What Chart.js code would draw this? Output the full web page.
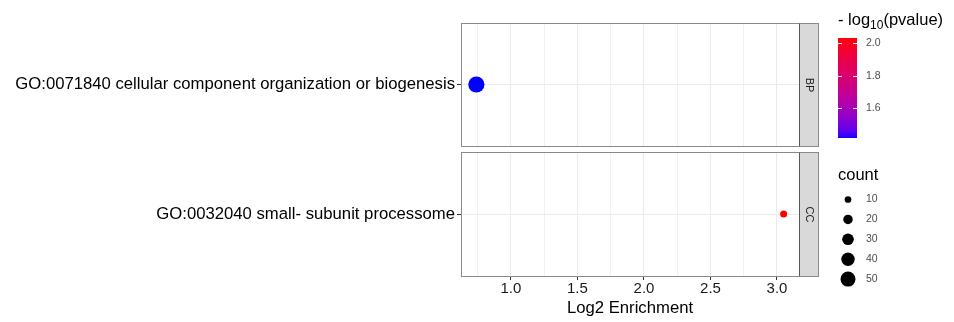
<!DOCTYPE html>
<html>
<head>
<meta charset="utf-8">
<title>GO enrichment</title>
<script src="https://cdn.jsdelivr.net/npm/chart.js@4/dist/chart.umd.min.js"></script>
<style>
  html, body { margin: 0; padding: 0; background: #fff; }
  #wrap { position: relative; width: 954px; height: 322px; }
  #wrap canvas { position: absolute; left: 0; top: 0; }
</style>
</head>
<body>
<div id="wrap">
  <canvas id="panelBP" width="954" height="322"></canvas>
  <canvas id="panelCC" width="954" height="322"></canvas>
</div>
<script>
// ---- data ----
const terms = [
  'GO:0071840 cellular component organization or biogenesis',
  'GO:0032040 small- subunit processome'
];
const ontologies = ['BP', 'CC'];
const log2Enrichment = [0.74, 3.05];
const negLog10P = [1.42, 2.03];
const geneCounts = [58, 11];

const xMajorTicks = [1.0, 1.5, 2.0, 2.5, 3.0];
const xMinorTicks = [0.75, 1.25, 1.75, 2.25, 2.75];
const colourBarTicks = [1.6, 1.8, 2.0];
const sizeLegendCounts = [10, 20, 30, 40, 50];

// ---- helpers ----
const FONT = '"Liberation Sans", Arial, Helvetica, sans-serif';

// x limits: data range expanded by 5% on each side
const xLo = Math.min(...log2Enrichment), xHi = Math.max(...log2Enrichment);
const xPad = (xHi - xLo) * 0.05;
const xMin = xLo - xPad, xMax = xHi + xPad;

// colour limits follow the data range
const pMin = Math.min(...negLog10P), pMax = Math.max(...negLog10P);

function bubbleRadius(count) { return 1.06 * Math.sqrt(count); }

// blue -> red gradient interpolated in CIELAB
const WP = [0.95047, 1.0, 1.08883];
function toLin(c) { c /= 255; return c <= 0.04045 ? c / 12.92 : Math.pow((c + 0.055) / 1.055, 2.4); }
function fromLin(c) {
  const v = c <= 0.0031308 ? 12.92 * c : 1.055 * Math.pow(c, 1 / 2.4) - 0.055;
  return Math.round(Math.max(0, Math.min(1, v)) * 255);
}
function rgbToLab(rgb) {
  const R = toLin(rgb[0]), G = toLin(rgb[1]), B = toLin(rgb[2]);
  const X = 0.4124 * R + 0.3576 * G + 0.1805 * B;
  const Y = 0.2126 * R + 0.7152 * G + 0.0722 * B;
  const Z = 0.0193 * R + 0.1192 * G + 0.9505 * B;
  const f = t => t > 216 / 24389 ? Math.cbrt(t) : (24389 / 27 * t + 16) / 116;
  const fx = f(X / WP[0]), fy = f(Y / WP[1]), fz = f(Z / WP[2]);
  return [116 * fy - 16, 500 * (fx - fy), 200 * (fy - fz)];
}
function labToRgb(lab) {
  const fy = (lab[0] + 16) / 116, fx = fy + lab[1] / 500, fz = fy - lab[2] / 200;
  const inv = t => (t * t * t > 216 / 24389) ? t * t * t : (116 * t - 16) / (24389 / 27);
  const X = inv(fx) * WP[0], Y = inv(fy) * WP[1], Z = inv(fz) * WP[2];
  const R = 3.2406 * X - 1.5372 * Y - 0.4986 * Z;
  const G = -0.9689 * X + 1.8758 * Y + 0.0415 * Z;
  const B = 0.0557 * X - 0.2040 * Y + 1.0570 * Z;
  return [fromLin(R), fromLin(G), fromLin(B)];
}
const LAB_LOW = rgbToLab([0, 0, 255]);
const LAB_HIGH = rgbToLab([255, 0, 0]);
function pColour(v) {
  const t = Math.max(0, Math.min(1, (v - pMin) / (pMax - pMin)));
  const lab = LAB_LOW.map((c, i) => c + (LAB_HIGH[i] - c) * t);
  const rgb = labToRgb(lab);
  return `rgb(${rgb[0]},${rgb[1]},${rgb[2]})`;
}

const allXTicks = [...xMinorTicks, ...xMajorTicks].sort((a, b) => a - b);
const isMajor = v => xMajorTicks.some(m => Math.abs(m - v) < 1e-9);

// ---- panel frame + facet strip ----
const STRIP_W = 19;
const panelFrame = {
  id: 'panelFrame',
  afterDraw(chart, args, opts) {
    const { ctx, chartArea: a } = chart;
    const L = Math.round(a.left) + 0.5, T = Math.round(a.top) + 0.5;
    const R = Math.round(a.right) + 0.5, B = Math.round(a.bottom) + 0.5;
    ctx.save();
    ctx.fillStyle = '#D9D9D9';
    ctx.fillRect(R, T, STRIP_W, B - T);
    ctx.lineWidth = 1;
    ctx.strokeStyle = '#8a8a8a';
    ctx.strokeRect(L, T, R - L, B - T);
    ctx.strokeRect(R, T, STRIP_W, B - T);
    ctx.strokeStyle = '#5a5a5a';
    ctx.beginPath(); ctx.moveTo(R, T); ctx.lineTo(R, B); ctx.stroke();
    ctx.translate(R + STRIP_W / 2, (T + B) / 2);
    ctx.rotate(Math.PI / 2);
    ctx.fillStyle = '#1a1a1a';
    ctx.font = `11px ${FONT}`;
    ctx.textAlign = 'center';
    ctx.textBaseline = 'middle';
    ctx.fillText(opts.label, 0, 0);
    ctx.restore();
  }
};

// ---- legends: colour bar and point size ----
const legends = {
  id: 'legends',
  afterDraw(chart) {
    const ctx = chart.ctx;
    ctx.save();
    // colour bar title: - log10(pvalue)
    ctx.fillStyle = '#000';
    ctx.textBaseline = 'alphabetic';
    ctx.textAlign = 'left';
    let x = 838;
    ctx.font = `16.5px ${FONT}`;
    ctx.fillText('- log', x, 25);
    x += ctx.measureText('- log').width;
    ctx.font = `12px ${FONT}`;
    ctx.fillText('10', x, 28.5);
    x += ctx.measureText('10').width;
    ctx.font = `16.5px ${FONT}`;
    ctx.fillText('(pvalue)', x, 25);

    // colour bar
    const barL = 838, barW = 19, barT = 38, barH = 100;
    for (let i = 0; i < barH; i++) {
      const v = pMax - (i + 0.5) / barH * (pMax - pMin);
      ctx.fillStyle = pColour(v);
      ctx.fillRect(barL, barT + i, barW, 1);
    }
    const barY = v => barT + (pMax - v) / (pMax - pMin) * barH;
    ctx.strokeStyle = '#ffffff';
    ctx.lineWidth = 1;
    ctx.font = `10.5px ${FONT}`;
    ctx.textBaseline = 'middle';
    colourBarTicks.forEach(v => {
      const y = Math.round(barY(v)) + 0.5;
      ctx.beginPath();
      ctx.moveTo(barL, y); ctx.lineTo(barL + 4, y);
      ctx.moveTo(barL + barW - 4, y); ctx.lineTo(barL + barW, y);
      ctx.stroke();
      ctx.fillStyle = '#4d4d4d';
      ctx.fillText(v.toFixed(1), 866, barY(v));
    });

    // size legend
    ctx.fillStyle = '#000';
    ctx.textBaseline = 'alphabetic';
    ctx.font = `16.5px ${FONT}`;
    ctx.fillText('count', 838, 179.5);
    ctx.textBaseline = 'middle';
    sizeLegendCounts.forEach((c, i) => {
      const y = 199.5 + i * 19.9;
      ctx.fillStyle = '#000';
      ctx.beginPath();
      ctx.arc(848, y, bubbleRadius(c), 0, Math.PI * 2);
      ctx.fill();
      ctx.fillStyle = '#4d4d4d';
      ctx.font = `10.5px ${FONT}`;
      ctx.fillText(String(c), 866, y);
    });
    ctx.restore();
  }
};

// ---- one facet panel per ontology ----
function makePanel(canvasId, i, bottom) {
  const xScale = {
    type: 'linear',
    min: xMin,
    max: xMax,
    afterBuildTicks: s => { s.ticks = allXTicks.map(v => ({ value: v })); },
    border: { display: false },
    grid: {
      color: '#EBEBEB',
      lineWidth: c => (c.tick && isMajor(c.tick.value)) ? 1 : 0.7,
      drawTicks: bottom,
      tickLength: 4,
      tickColor: c => (c.tick && isMajor(c.tick.value)) ? '#333333' : 'rgba(0,0,0,0)'
    },
    ticks: {
      display: bottom,
      autoSkip: false,
      maxRotation: 0,
      padding: 0,
      color: '#1a1a1a',
      font: { family: FONT, size: 15 },
      callback: v => isMajor(v) ? v.toFixed(1) : ''
    },
    title: {
      display: bottom,
      text: 'Log2 Enrichment',
      color: '#000',
      font: { family: FONT, size: 16.7 },
      padding: { top: 0, bottom: 4 }
    },
    afterFit: s => { s.height = bottom ? 46 : 0; }
  };
  const yScale = {
    type: 'category',
    labels: [terms[i]],
    offset: true,
    border: { display: false },
    grid: { color: '#EBEBEB', lineWidth: 1, tickLength: 4, tickColor: '#333333' },
    ticks: { color: '#000', padding: 2, font: { family: FONT, size: 16.7 } },
    afterFit: s => { s.width = 461; }
  };
  return new Chart(document.getElementById(canvasId), {
    type: 'bubble',
    data: {
      datasets: [{
        label: ontologies[i],
        data: [{ x: log2Enrichment[i], y: terms[i], r: bubbleRadius(geneCounts[i]) }],
        backgroundColor: pColour(negLog10P[i]),
        borderColor: pColour(negLog10P[i]),
        borderWidth: 0,
        hoverRadius: 0
      }]
    },
    options: {
      responsive: false,
      animation: false,
      devicePixelRatio: 1,
      events: [],
      layout: {
        padding: bottom
          ? { left: 0, right: 155, top: 152, bottom: 0 }
          : { left: 0, right: 155, top: 23, bottom: 176 }
      },
      plugins: {
        legend: { display: false },
        tooltip: { enabled: false },
        panelFrame: { label: ontologies[i] }
      },
      scales: { x: xScale, y: yScale }
    },
    plugins: bottom ? [panelFrame, legends] : [panelFrame]
  });
}

makePanel('panelBP', 0, false);
makePanel('panelCC', 1, true);
</script>
</body>
</html>
